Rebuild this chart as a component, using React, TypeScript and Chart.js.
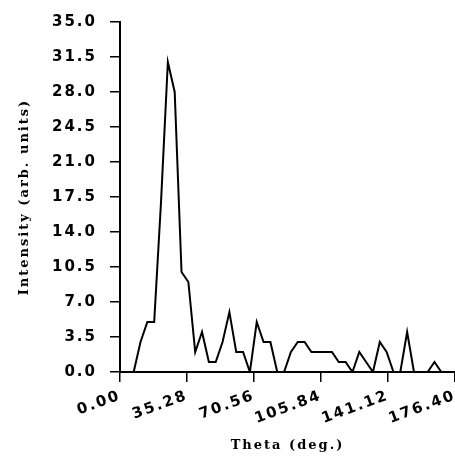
import React, { useEffect, useRef } from 'react';
import { Chart, registerables } from 'chart.js';

Chart.register(...registerables);

const theta = [
  0, 3.6, 7.2, 10.8, 14.4, 18.0, 21.6, 25.2, 28.8, 32.4,
  36.0, 39.6, 43.2, 46.8, 50.4, 54.0, 57.6, 61.2, 64.8, 68.4,
  72.0, 75.6, 79.2, 82.8, 86.4, 90.0, 93.6, 97.2, 100.8, 104.4,
  108.0, 111.6, 115.2, 118.8, 122.4, 126.0, 129.6, 133.2, 136.8, 140.4,
  144.0, 147.6, 151.2, 154.8, 158.4, 162.0, 165.6, 169.2, 172.8, 176.4,
];

const intensity = [
  0, 0, 0, 3, 5, 5, 17, 31, 28, 10,
  9, 2, 4, 1, 1, 3, 6, 2, 2, 0,
  5, 3, 3, 0, 0, 2, 3, 3, 2, 2,
  2, 2, 1, 1, 0, 2, 1, 0, 3, 2,
  0, 0, 4, 0, 0, 0, 1, 0, 0, 0,
];

const xTickValues = [0, 35.28, 70.56, 105.84, 141.12, 176.4];
const yTickValues = [0, 3.5, 7, 10.5, 14, 17.5, 21, 24.5, 28, 31.5, 35];
const xTitle = 'Theta (deg.)';
const yTitle = 'Intensity (arb. units)';

const tickFont = { family: 'DejaVu Sans', size: 15, weight: 'bold' as const };
const titleFont = { family: 'DejaVu Serif', size: 13, weight: 'bold' as const };

export default function App() {
  const ref = useRef<HTMLCanvasElement>(null);

  useEffect(() => {
    document.body.style.margin = '0';
    const spacing = {
      id: 'letterSpacing',
      beforeLayout(c: any) { c.ctx.letterSpacing = '2px'; },
      beforeDraw(c: any) { c.ctx.letterSpacing = '2px'; },
    };
    const chart = new Chart(ref.current as HTMLCanvasElement, {
      type: 'line',
      data: {
        datasets: [
          {
            data: theta.map((x, i) => ({ x, y: intensity[i] })),
            borderColor: '#000',
            borderWidth: 2,
            pointRadius: 0,
            tension: 0,
            fill: false,
          },
        ],
      },
      options: {
        animation: false,
        responsive: false,
        layout: { padding: { top: 22, right: -2, left: 0, bottom: 0 } },
        plugins: { legend: { display: false }, tooltip: { enabled: false } },
        scales: {
          x: {
            type: 'linear',
            min: 0,
            max: 176.4,
            afterBuildTicks: (s: any) => {
              s.ticks = xTickValues.map((v) => ({ value: v }));
            },
            afterFit: (s: any) => {
              s.height = 88;
              s.paddingLeft = 0;
              s.paddingRight = 0;
            },
            ticks: {
              minRotation: 20,
              maxRotation: 20,
              autoSkip: false,
              padding: 5,
              color: '#000',
              font: tickFont,
              callback: (v: any) => Number(v).toFixed(2),
            },
            grid: { drawOnChartArea: false, tickLength: 10, color: '#000', lineWidth: 1.5 },
            border: { color: '#000', width: 2 },
            title: {
              display: true,
              text: xTitle,
              color: '#000',
              font: titleFont,
              padding: { top: 4, bottom: 7 },
            },
          },
          y: {
            type: 'linear',
            min: 0,
            max: 35,
            afterBuildTicks: (s: any) => {
              s.ticks = yTickValues.map((v) => ({ value: v }));
            },
            afterFit: (s: any) => {
              s.width = 120;
            },
            ticks: {
              padding: 13,
              color: '#000',
              font: tickFont,
              callback: (v: any) => Number(v).toFixed(1),
            },
            grid: { drawOnChartArea: false, tickLength: 10, color: '#000', lineWidth: 1.5 },
            border: { color: '#000', width: 2 },
            title: {
              display: true,
              text: yTitle,
              color: '#000',
              font: titleFont,
              padding: { top: 17, bottom: 0 },
            },
          },
        },
      },
      plugins: [spacing],
    });
    return () => chart.destroy();
  }, []);

  return <canvas ref={ref} width={455} height={460} style={{ display: 'block' }} />;
}
